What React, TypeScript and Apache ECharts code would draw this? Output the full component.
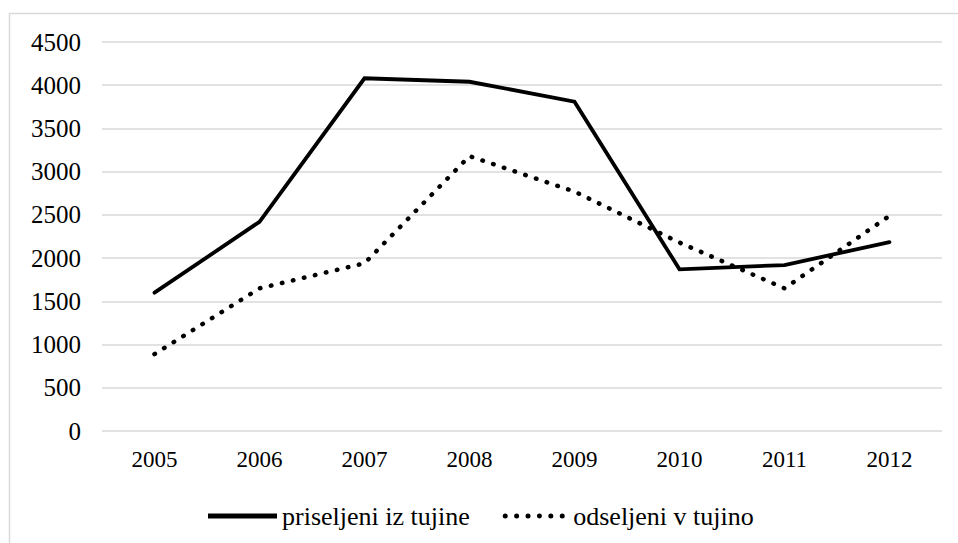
import React, { useEffect, useRef } from "react";
import * as echarts from "echarts";

const years = ["2005", "2006", "2007", "2008", "2009", "2010", "2011", "2012"];
const priseljeni = [1600, 2420, 4080, 4040, 3810, 1870, 1920, 2185];
const odseljeni = [890, 1650, 1940, 3180, 2770, 2180, 1650, 2490];
const seriesNames = ["priseljeni iz tujine", "odseljeni v tujino"];

const FONT = "Liberation Serif";

function dotsPath(n: number, d: number, step: number) {
  const r = d / 2;
  let p = "";
  for (let i = 0; i < n; i++) {
    const x = i * step;
    p += `M${x},${r} a${r},${r} 0 1,0 ${d},0 a${r},${r} 0 1,0 ${-d},0 Z `;
  }
  return "path://" + p.trim();
}

export default function App() {
  const ref = useRef<HTMLDivElement>(null);
  useEffect(() => {
    const chart = echarts.init(ref.current!, null, { renderer: "svg" });
    chart.setOption({
      animation: false,
      backgroundColor: "#ffffff",
      textStyle: { fontFamily: FONT, color: "#000" },
      graphic: [
        {
          type: "rect",
          shape: { x: 9.5, y: 13.5, width: 960, height: 540 },
          style: { fill: "none", stroke: "#d9d9d9", lineWidth: 1.5 },
          silent: true,
        },
      ],
      grid: { left: 102, right: 16, top: 42, bottom: 112, containLabel: false },
      xAxis: {
        type: "category",
        data: years,
        boundaryGap: true,
        axisLine: { show: false },
        axisTick: { show: false },
        axisLabel: { fontFamily: FONT, fontSize: 23, color: "#000", margin: 17 },
      },
      yAxis: {
        type: "value",
        min: 0,
        max: 4500,
        interval: 500,
        axisLine: { show: false },
        axisTick: { show: false },
        splitLine: { lineStyle: { color: "#d9d9d9", width: 1.5 } },
        axisLabel: {
          fontFamily: FONT,
          fontSize: 25,
          color: "#000",
          margin: 21,
          formatter: (v: number) => String(v),
        },
      },
      legend: {
        top: 498,
        left: 203,
        itemWidth: 69,
        itemHeight: 5,
        itemGap: 33,
        textStyle: { fontFamily: FONT, fontSize: 26, color: "#000" },
        data: [
          { name: seriesNames[0], icon: "rect", itemStyle: { color: "#000" } },
          { name: seriesNames[1], icon: dotsPath(6, 5, 11.4), itemStyle: { color: "#000" } },
        ],
      },
      series: [
        {
          name: seriesNames[0],
          type: "line",
          data: priseljeni,
          symbol: "none",
          lineStyle: { color: "#000", width: 3.8, cap: "round", join: "miter" },
          itemStyle: { color: "#000" },
        },
        {
          name: seriesNames[1],
          type: "line",
          data: odseljeni,
          symbol: "none",
          lineStyle: { color: "#000", width: 4.5, type: [0.5, 10.8], cap: "round" },
          itemStyle: { color: "#000" },
        },
      ],
    });
    return () => chart.dispose();
  }, []);
  return (
    <div
      ref={ref}
      style={{ position: "fixed", left: 0, top: 0, width: 958, height: 543 }}
    />
  );
}
